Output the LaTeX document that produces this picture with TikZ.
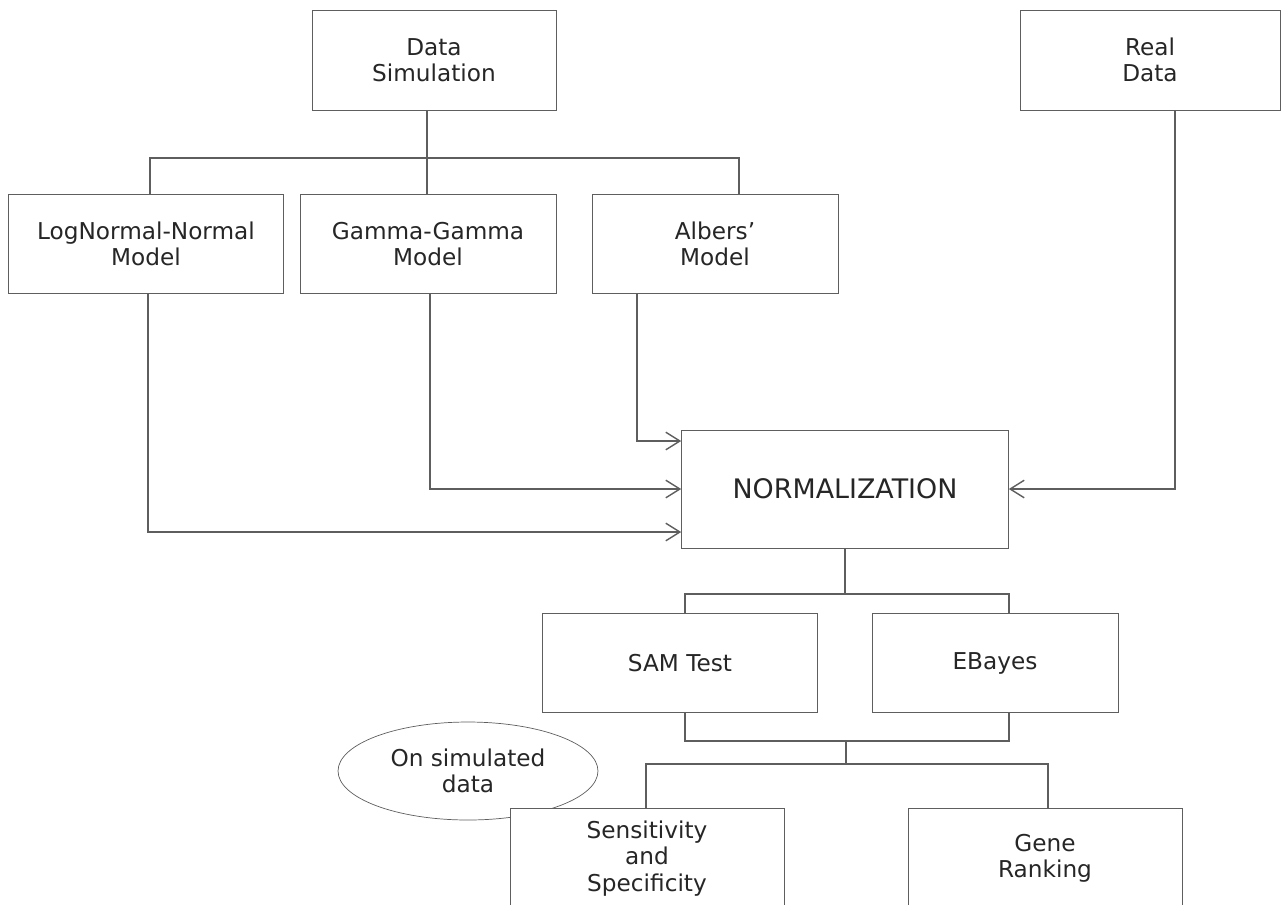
\documentclass[tikz,border=0pt]{standalone}
\usepackage{fontspec}
\setmainfont{DejaVu Sans}
\usetikzlibrary{arrows.meta,shapes.geometric}
\definecolor{linec}{HTML}{5E5E5E}

\begin{document}
\begin{tikzpicture}[x=0.02cm,y=-0.02cm,
    blk/.style={draw=linec, fill=white, align=center, inner sep=0pt,
                font=\fontsize{13.2}{15}\selectfont, text=black!85},
    wire/.style={draw=linec, line width=0.8pt},
    arr/.style={wire, -{Straight Barb[length=8pt,width=10pt]}}]
  \useasboundingbox (0,0) rectangle (1288,904);

  % top row
  \node[blk, minimum width=4.88cm, minimum height=2cm] (sim) at (434,60) {Data\\Simulation};
  \node[blk, minimum width=5.2cm, minimum height=2cm] (real) at (1150,60) {Real\\Data};

  % models
  \node[blk, minimum width=5.5cm, minimum height=1.98cm] (lnn) at (146,244) {LogNormal-Normal\\Model};
  \node[blk, minimum width=5.12cm, minimum height=1.98cm] (gg) at (428,244) {Gamma-Gamma\\Model};
  \node[blk, minimum width=4.92cm, minimum height=1.98cm] (alb) at (715,244) {Albers'\\Model};

  \node[blk, minimum width=6.54cm, minimum height=2.36cm, font=\fontsize{15.3}{18}\selectfont] (norm) at (845,489) {NORMALIZATION};

  % tests
  \node[blk, minimum width=5.5cm, minimum height=1.98cm] (sam) at (680,663) {SAM Test};
  \node[blk, minimum width=4.92cm, minimum height=1.98cm] (eb) at (995,663) {EBayes};

  % results
  \node[draw=linec, ellipse, minimum width=5.2cm, minimum height=1.96cm, inner sep=0pt,
        align=center, font=\fontsize{13.2}{15}\selectfont, text=black!85] (ons) at (468,771) {On simulated\\data};
  \node[blk, anchor=north, minimum width=5.48cm, minimum height=2cm] (sens) at (647,808) {Sensitivity\\and\\Specificity};
  \node[blk, anchor=north, minimum width=5.48cm, minimum height=2cm] (rank) at (1045,808) {Gene\\Ranking};

  % tree below data simulation
  \draw[wire] (sim.south -| 427,0) -- (427,158);
  \draw[wire] (lnn.north -| 150,0) |- (gg.north |- 0,158) -| (alb.north -| 739,0);
  \draw[wire] (427,158) -- (gg.north -| 427,0);

  % into normalization
  \draw[arr] (alb.south -| 637,0) |- (norm.west |- 0,441);
  \draw[arr] (gg.south -| 430,0) |- (norm.west);
  \draw[arr] (lnn.south -| 148,0) |- (norm.west |- 0,532);
  \draw[arr] (real.south -| 1175,0) |- (norm.east);

  % normalization to tests
  \draw[wire] (norm.south) -- (845,594);
  \draw[wire] (sam.north -| 685,0) |- (1009,594) -- (eb.north -| 1009,0);

  % tests to results
  \draw[wire] (sam.south -| 685,0) |- (1009,741) -- (eb.south -| 1009,0);
  \draw[wire] (846,741) -- (846,764);
  \draw[wire] (sens.north -| 646,0) |- (1048,764) -- (rank.north -| 1048,0);
\end{tikzpicture}
\end{document}
